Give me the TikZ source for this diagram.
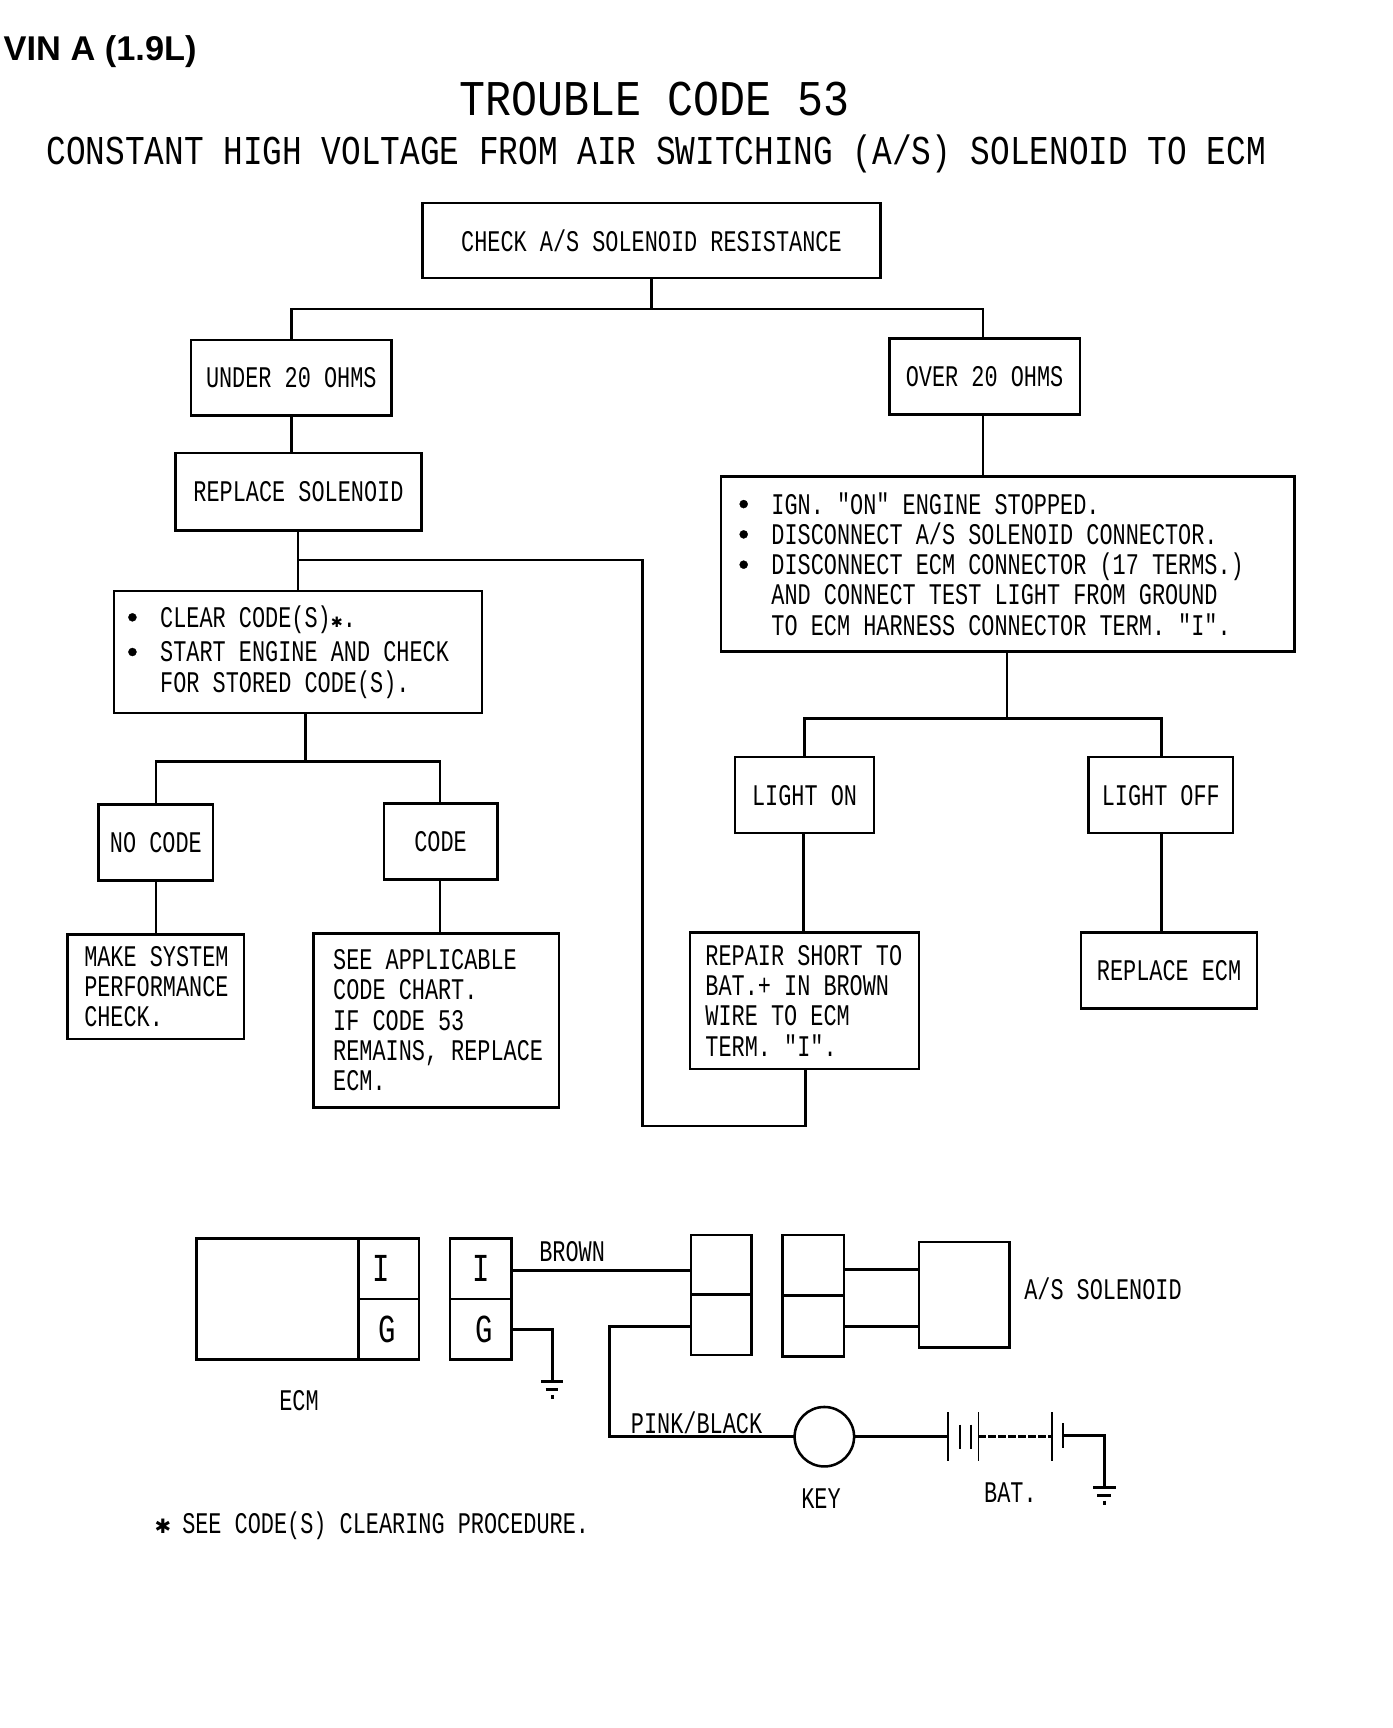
\documentclass[tikz,border=0pt]{standalone}
\usepackage{fontspec}
\setmainfont{Liberation Sans}
\newfontfamily\pltbase[FakeStretch=0.73]{Liberation Mono}
\newfontfamily\pltwide[FakeStretch=0.866]{Liberation Mono}
\newfontfamily\pltsubf[FakeStretch=0.80]{Liberation Mono}
\newfontfamily\starf{DejaVu Sans}
\newfontfamily\bulf[FakeBold=1]{Liberation Sans}
\newcommand{\pltbody}{\pltbase\fontsize{13.6pt}{13.75pt}\selectfont}
\newcommand{\plttitle}{\pltwide\fontsize{22.7pt}{24pt}\selectfont}
\newcommand{\pltsub}{\pltsubf\fontsize{18.6pt}{20pt}\selectfont}
\newcommand{\pltbig}{\pltbase\fontsize{18pt}{19pt}\selectfont}
\newcommand{\bltm}{\makebox[15pt][l]{\bulf •}}
\newcommand{\bltind}{\hspace*{15pt}}
\newcommand{\starm}{{\starf\fontsize{9pt}{10pt}\selectfont ✱}}
\newcommand{\starin}{{\starf\fontsize{6.5pt}{7pt}\selectfont ✱}}
\tikzset{
  line/.style={line width=1.15pt,line join=miter,line cap=butt},
  wire/.style={line width=1.3pt,line join=miter,line cap=butt},
  thinl/.style={line width=0.8pt},
  flow/.style={draw=black,line width=1.15pt,rectangle,inner sep=0pt,outer sep=0pt,font=\pltbody,align=center},
  flowt/.style={flow,align=left},
  cell/.style={draw=black,line width=1.15pt,rectangle,inner sep=0pt,outer sep=0pt,font=\pltbig},
  lab/.style={inner sep=0pt,font=\pltbody},
}
% name x1 y1 x2 y2 text
\newcommand{\bx}[7][flow]{%
  \pgfmathsetmacro\bxcx{(#3+#5)/2}\pgfmathsetmacro\bxcy{(#4+#6)/2}%
  \pgfmathsetmacro\bxw{(#5-#3)/2}\pgfmathsetmacro\bxh{(#6-#4)/2}%
  \node[#1,minimum width=\bxw pt,minimum height=\bxh pt] (#2) at (\bxcx,\bxcy) {#7};}
% name x1 y1 x2 y2 leftpad text
\newcommand{\bxt}[7]{%
  \pgfmathsetmacro\bxcx{(#2+#4)/2}\pgfmathsetmacro\bxcy{(#3+#5)/2}%
  \pgfmathsetmacro\bxw{(#4-#2)/2}\pgfmathsetmacro\bxh{(#5-#3)/2}%
  \node[flowt,text width=\bxw pt,minimum height=\bxh pt] (#1) at (\bxcx,\bxcy) {\spaceskip=0pt \xspaceskip=0pt \leftskip=#6pt \baselineskip=13.75pt #7\par};}
\begin{document}
\begin{tikzpicture}[x=0.5pt,y=-0.5pt]
\useasboundingbox (0,0) rectangle (1264,1569);
% headings
\node[inner sep=0pt,anchor=west,font=\fontsize{15.6pt}{17pt}\selectfont\bfseries] (vin) at (3,47) {VIN A (1.9L)};
\node[inner sep=0pt,font=\plttitle] (title) at (594,90) {TROUBLE CODE 53};
\node[inner sep=0pt,font=\pltsub] (subtitle) at (596,140) {CONSTANT HIGH VOLTAGE FROM AIR SWITCHING (A/S) SOLENOID TO ECM};
% flowchart boxes
\bx{check}{383.5}{184.5}{799.5}{252.5}{CHECK A/S SOLENOID RESISTANCE}
\bx{under}{173.5}{308.5}{355.5}{377.5}{UNDER 20 OHMS}
\bx{over}{807.5}{307.5}{980.5}{376.5}{OVER 20 OHMS}
\bx{repsol}{159.5}{411.5}{382.5}{481.5}{REPLACE SOLENOID}
\bxt{ign}{654.5}{432.5}{1175.5}{591.5}{8}{\bltm IGN. "ON" ENGINE STOPPED.\\\bltm DISCONNECT A/S SOLENOID CONNECTOR.\\\bltm DISCONNECT ECM CONNECTOR (17 TERMS.)\\\bltind AND CONNECT TEST LIGHT FROM GROUND\\\bltind TO ECM HARNESS CONNECTOR TERM. "I".}
\bxt{clear}{103.5}{536.5}{437.5}{647.5}{6}{\vspace*{2pt}\bltm CLEAR CODE(S)\starin.\\\bltm START ENGINE AND CHECK\\\bltind FOR STORED CODE(S).}
\bx{nocode}{89.5}{730.5}{193.5}{799.5}{NO CODE}
\bx{code}{348.5}{729.5}{451.5}{798.5}{CODE}
\bxt{make}{61.5}{848.5}{221.5}{943.5}{7.5}{MAKE SYSTEM\\PERFORMANCE\\CHECK.}
\bxt{see}{284.5}{847.5}{507.5}{1005.5}{9}{SEE APPLICABLE\\CODE CHART.\\IF CODE 53\\REMAINS, REPLACE\\ECM.}
\bx{lon}{667.5}{687.5}{793.5}{756.5}{LIGHT ON}
\bx{loff}{988.5}{687.5}{1119.5}{756.5}{LIGHT OFF}
\bxt{repair}{626.5}{846.5}{834.5}{970.5}{7}{REPAIR SHORT TO\\BAT.+ IN BROWN\\WIRE TO ECM\\TERM. "I".}
\bx{repecm}{981.5}{846.5}{1141.5}{915.5}{REPLACE ECM}
% flowchart junctions
\coordinate (j1) at (591.5,280.5);
\coordinate (j2) at (270.5,508.5);
\coordinate (j3) at (583.5,1022.5);
\coordinate (j4) at (731.5,1022.5);
\coordinate (j5) at (914.5,652.5);
\coordinate (j6) at (277.5,691.5);
\coordinate (a1) at (264.5,300);
\coordinate (a2) at (892.5,300);
\coordinate (a3) at (270.5,500);
\coordinate (a4) at (730.5,670);
\coordinate (a5) at (1054.5,670);
\coordinate (a6) at (141.5,700);
\coordinate (a7) at (399.5,700);
\coordinate (a8) at (729.5,800);
% flowchart connectors
\draw[line] (check.south -| j1) -- (j1);
\draw[line] (under.north -| a1) -- (a1 |- j1) -- (a2 |- j1) -- (over.north -| a2);
\draw[line] (under.south -| a1) -- (repsol.north -| a1);
\draw[line] (repsol.south -| a3) -- (clear.north -| a3);
\draw[line] (j2) -- (j2 -| j3) -- (j3) -- (j4) -- (repair.south -| j4);
\draw[line] (over.south -| a2) -- (ign.north -| a2);
\draw[line] (ign.south -| j5) -- (j5);
\draw[line] (lon.north -| a4) -- (a4 |- j5) -- (a5 |- j5) -- (loff.north -| a5);
\draw[line] (lon.south -| a8) -- (repair.north -| a8);
\draw[line] (loff.south -| a5) -- (repecm.north -| a5);
\draw[line] (clear.south -| j6) -- (j6);
\draw[line] (nocode.north -| a6) -- (a6 |- j6) -- (a7 |- j6) -- (code.north -| a7);
\draw[line] (nocode.south -| a6) -- (make.north -| a6);
\draw[line] (code.south -| a7) -- (see.north -| a7);
% wiring: ECM and connectors
\bx[cell]{ecm}{178.5}{1124.5}{325.5}{1234.5}{}
\bx[cell]{ecmi}{325.5}{1124.5}{380.5}{1179.5}{\hspace*{-7pt}I}
\bx[cell]{ecmg}{325.5}{1179.5}{380.5}{1234.5}{\hspace*{-1.5pt}G}
\bx[cell]{coni}{408.5}{1124.5}{464.5}{1179.5}{I}
\bx[cell]{cong}{408.5}{1179.5}{464.5}{1234.5}{\hspace*{3pt}G}
\bx[cell]{lcu}{627.5}{1121.5}{682.5}{1175.5}{}
\bx[cell]{lcl}{627.5}{1175.5}{682.5}{1230.5}{}
\bx[cell]{rcu}{710.5}{1121.5}{766.5}{1176.5}{}
\bx[cell]{rcl}{710.5}{1176.5}{766.5}{1231.5}{}
\bx[cell]{sol}{834.5}{1127.5}{916.5}{1223.5}{}
\node[draw=black,line width=1.15pt,circle,inner sep=0pt,outer sep=0pt,minimum size=27pt] (key) at (748.5,1304.5) {};
% wiring labels
\node[lab] (lecm) at (271.5,1271.5) {ECM};
\node[lab] (lbrown) at (519.5,1136.5) {BROWN};
\node[lab] (lsol) at (1001.5,1170.5) {A/S SOLENOID};
\node[lab] (lpink) at (632.5,1291.5) {PINK/BLACK};
\node[lab] (lkey) at (745.5,1360.5) {KEY};
\node[lab] (lbat) at (917.5,1355.5) {BAT.};
\node[lab,anchor=west] (lnote) at (140,1385) {\starm\hspace{5pt}SEE CODE(S) CLEARING PROCEDURE.};
% wiring coordinates
\coordinate (w1) at (550,1153.5);
\coordinate (w2) at (800,1152.5);
\coordinate (w3) at (800,1204.5);
\coordinate (w4) at (553.5,1204.5);
\coordinate (w5) at (553.5,1304.5);
\coordinate (g1) at (501.5,1207.5);
\coordinate (g1t) at (501.5,1254.5);
\coordinate (g1a) at (491.5,1254.5);
\coordinate (g1b) at (511.5,1254.5);
\coordinate (g1c) at (495.5,1261.5);
\coordinate (g1d) at (506.5,1261.5);
\coordinate (g1e) at (501.5,1266.5);
\coordinate (g1f) at (501.5,1270.5);
\coordinate (b1) at (860.5,1304.5);
\coordinate (b2) at (888.5,1304.5);
\coordinate (b3) at (955.5,1304.5);
\coordinate (b4) at (965.5,1303.5);
\coordinate (b5) at (1002.5,1303.5);
\coordinate (g2t) at (1002.5,1350.5);
\coordinate (g2a) at (992.5,1350.5);
\coordinate (g2b) at (1013.5,1350.5);
\coordinate (g2c) at (996.5,1357.5);
\coordinate (g2d) at (1008.5,1357.5);
\coordinate (g2e) at (1002.5,1362.5);
\coordinate (g2f) at (1002.5,1366.5);
\coordinate (p1) at (871.5,1304.5);
\coordinate (p2) at (881.5,1304.5);
% wires
\draw[wire] (coni.east |- w1) -- (lcu.west |- w1);
\draw[wire] (rcu.east |- w2) -- (sol.west |- w2);
\draw[wire] (rcl.east |- w3) -- (sol.west |- w3);
\draw[wire] (lcl.west |- w4) -- (w4) -- (w5) -- (key.west |- w5);
\draw[wire] (key.east) -- (b1);
\draw[wire] (cong.east |- g1) -- (g1) -- (g1t);
\draw[wire] (g1a) -- (g1b);
\draw[wire] (g1c) -- (g1d);
\draw[wire] (g1e) -- (g1f);
% battery
\draw[thinl] ([yshift=11pt]b1) -- ([yshift=-11pt]b1);
\draw[thinl] ([yshift=11pt]b2) -- ([yshift=-11pt]b2);
\draw[thinl] ([yshift=5.5pt]p1) -- ([yshift=-5.5pt]p1);
\draw[thinl] ([yshift=5.5pt]p2) -- ([yshift=-5.5pt]p2);
\draw[thinl] ([yshift=11pt]b3) -- ([yshift=-11pt]b3);
\draw[thinl] ([yshift=5.5pt]b4) -- ([yshift=-5.5pt]b4);
\draw[wire,dash pattern=on 3.5pt off 1pt] (b2) -- (b3);
\draw[wire] (b4) -- (b5) -- (g2t);
\draw[wire] (g2a) -- (g2b);
\draw[wire] (g2c) -- (g2d);
\draw[wire] (g2e) -- (g2f);
\end{tikzpicture}
\end{document}
